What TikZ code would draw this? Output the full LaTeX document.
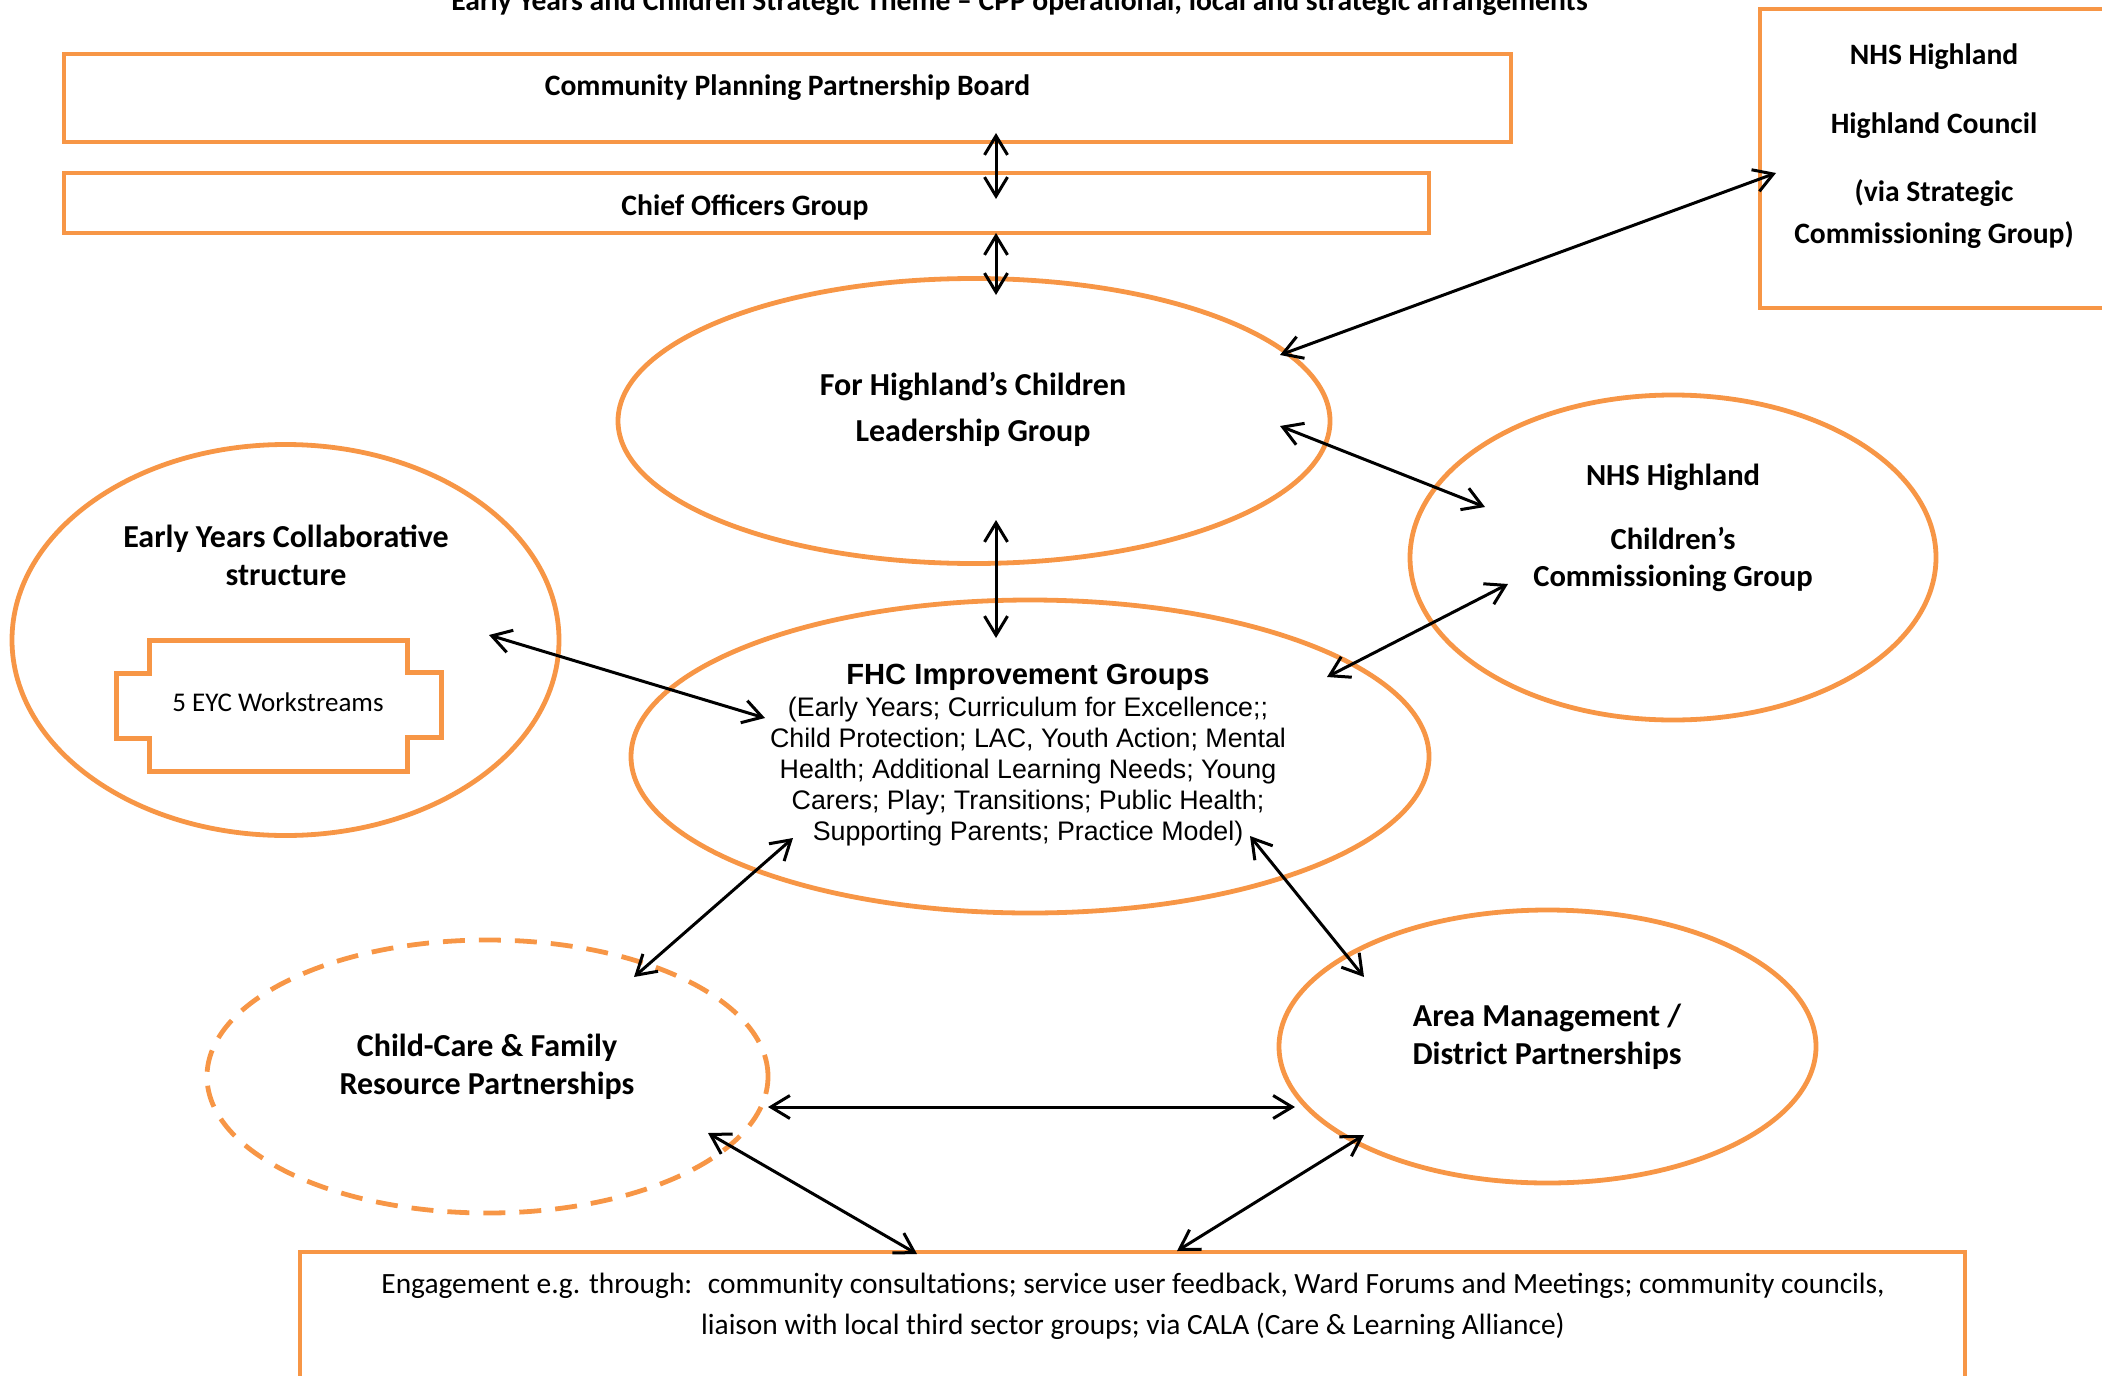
\documentclass[tikz,border=0pt]{standalone}
\usepackage{fontspec}
\setmainfont{Carlito}
\newfontfamily\arialfont{Liberation Sans}
\usetikzlibrary{shapes.geometric,arrows.meta,calc}

\definecolor{cppOrange}{RGB}{247,150,70}

\tikzset{every picture/.style={line width=0.75pt}}
\tikzset{
  orangebox/.style={draw=cppOrange, line width=2.4pt, rectangle, inner sep=0pt, outer sep=0pt},
  orangeoval/.style={draw=cppOrange, line width=2.4pt, ellipse, inner sep=0pt, outer sep=0pt},
  boldtxt/.style={font=\fontsize{14.8}{21}\selectfont\bfseries, align=center, anchor=base, inner sep=0pt},
  ovaltxt/.style={font=\fontsize{16}{19}\selectfont\bfseries, align=center, anchor=base, inner sep=0pt},
  bodytxt/.style={font=\fontsize{13.5}{20.5}\selectfont, align=center, anchor=base, inner sep=0pt},
  twoway/.style={line width=1.5pt, {Straight Barb[length=9.5pt,width=11.5pt]}-{Straight Barb[length=9.5pt,width=11.5pt]}},
}

\begin{document}
\begin{tikzpicture}[x=0.5pt,y=0.5pt,yscale=-1,xscale=1]
        \useasboundingbox (0,0) rectangle (2102,1375);

        % Text Node
        \node [boldtxt] (title) at (1019.5,10.5) {Early Years and Children Strategic Theme – CPP operational, local and strategic arrangements};

        %Shape: Rectangle
        \node [orangebox, minimum width=723.5pt, minimum height=44pt] (board) at (787.5,98) {};
        \node [boldtxt] (boardlbl) at (787.5,95.5) {Community Planning Partnership Board};
        %Shape: Rectangle
        \node [orangebox, minimum width=682.5pt, minimum height=30pt] (chief) at (746.5,203) {};
        \node [boldtxt] (chieflbl) at (745,215.5) {Chief Officers Group};
        %Shape: Rectangle (runs off the right edge)
        \node [orangebox, minimum width=185pt, minimum height=149.5pt] (nhsbox) at (1945,158.5) {};
        \node [boldtxt] (nhsboxlbl) at (1934,243.5) {NHS Highland\\[13.5pt]Highland Council\\[13pt](via Strategic\\Commissioning Group)};

        %Shape: Ellipse
        \node [orangeoval, minimum width=356pt, minimum height=142.5pt] (lead) at (974,421) {};
        \node [ovaltxt, font=\fontsize{16}{23}\selectfont\bfseries] (leadlbl) at (973,441) {For Highland’s Children\\Leadership Group};
        %Shape: Ellipse
        \node [orangeoval, minimum width=273.5pt, minimum height=195.5pt] (eyc) at (285.5,640) {};
        \node [ovaltxt] (eyclbl) at (286,585.5) {Early Years Collaborative\\structure};
        % inner plaque
        \node [inner sep=0pt, minimum width=128.5pt, minimum height=65pt] (ws) at (278.5,706) {};
        \draw [draw=cppOrange, line width=2.4pt] (ws.north west) -- (ws.north east) -- ++(0,32) -- ++(34,0) -- ++(0,65) -- ++(-34,0) -- (ws.south east) -- (ws.south west) -- ++(0,-33) -- ++(-33,0) -- ++(0,-65) -- ++(33,0) -- cycle ;
        \node [bodytxt] (wslbl) at (278,711) {5 EYC Workstreams};
        %Shape: Ellipse
        \node [orangeoval, minimum width=263pt, minimum height=162.5pt] (nhscc) at (1673,557.5) {};
        \node [ovaltxt, font=\fontsize{15.3}{18.5}\selectfont\bfseries] (nhscclbl) at (1673,586.5) {NHS Highland\\[13.5pt]Children’s\\Commissioning Group};
        %Shape: Ellipse
        \node [orangeoval, minimum width=399pt, minimum height=156.5pt] (fhc) at (1030,756.5) {};
        \node [anchor=base, inner sep=0pt, font=\arialfont\fontsize{14.6}{17}\selectfont\bfseries] (fhchead) at (1028,684.5) {FHC Improvement Groups};
        \node [anchor=base, inner sep=0pt, align=center, font=\arialfont\fontsize{13.4}{15.5}\selectfont] (fhcbody) at (1028,840) {(Early Years; Curriculum for Excellence;;\\Child Protection; LAC, Youth Action; Mental\\Health; Additional Learning Needs; Young\\Carers; Play; Transitions; Public Health;\\Supporting Parents; Practice Model)};
        %Shape: Ellipse (dashed)
        \node [orangeoval, dash pattern=on 11pt off 7pt, minimum width=280.5pt, minimum height=136.5pt] (ccfr) at (487.5,1076.5) {};
        \node [ovaltxt] (ccfrlbl) at (487,1094.5) {Child-Care \& Family\\Resource Partnerships};
        %Shape: Ellipse
        \node [orangeoval, minimum width=268.5pt, minimum height=136.5pt] (area) at (1547.5,1046.5) {};
        \node [ovaltxt] (arealbl) at (1547,1064.5) {Area Management /\\District Partnerships};
        %Shape: Rectangle (runs off the bottom edge)
        \node [orangebox, minimum width=832.5pt, minimum height=74pt] (engage) at (1132.5,1326) {};
        \node [bodytxt, font=\fontsize{14.7}{20.5}\selectfont] (engagelbl) at (1133,1334.5) {Engagement e.g. through:~ community consultations; service user feedback, Ward Forums and Meetings; community councils,\\liaison with local third sector groups; via CALA (Care \& Learning Alliance)};

        %Straight Lines
        \draw [twoway] ($(board.south)+(208.5,-9)$) -- ($(chief.north)+(249.5,26)$) ;
        \draw [twoway] ($(chief.south)+(249.5,0)$) -- ($(lead.north)+(22,16.5)$) ;
        \draw [twoway] ($(lead.south)+(22,-43.5)$) -- ($(fhc.north)+(-34,38)$) ;
        \draw [twoway] ($(nhsbox.west)+(16,14.5)$) -- ($(lead.center)+(306,-66)$) ;
        \draw [twoway] ($(lead.center)+(306,5)$) -- ($(nhscc.center)+(-188,-50.5)$) ;
        \draw [twoway] ($(fhc.center)+(297,-79.5)$) -- ($(nhscc.center)+(-165,26.5)$) ;
        \draw [twoway] ($(eyc.center)+(203.5,-5)$) -- ($(fhc.center)+(-265,-38.5)$) ;
        \draw [twoway] ($(fhc.center)+(-237,81.5)$) -- ($(ccfr.center)+(146.5,-99.5)$) ;
        \draw [twoway] ($(fhc.center)+(220,79.5)$) -- ($(area.center)+(-183.5,-69.5)$) ;
        \draw [twoway] ($(ccfr.center)+(280.5,30.5)$) -- ($(area.center)+(-252.5,60.5)$) ;
        \draw [twoway] ($(ccfr.center)+(220.5,56.5)$) -- ($(engage.north)+(-215.5,2)$) ;
        \draw [twoway] ($(area.center)+(-183.5,88.5)$) -- ($(engage.north)+(44.5,-1)$) ;

\end{tikzpicture}
\end{document}
